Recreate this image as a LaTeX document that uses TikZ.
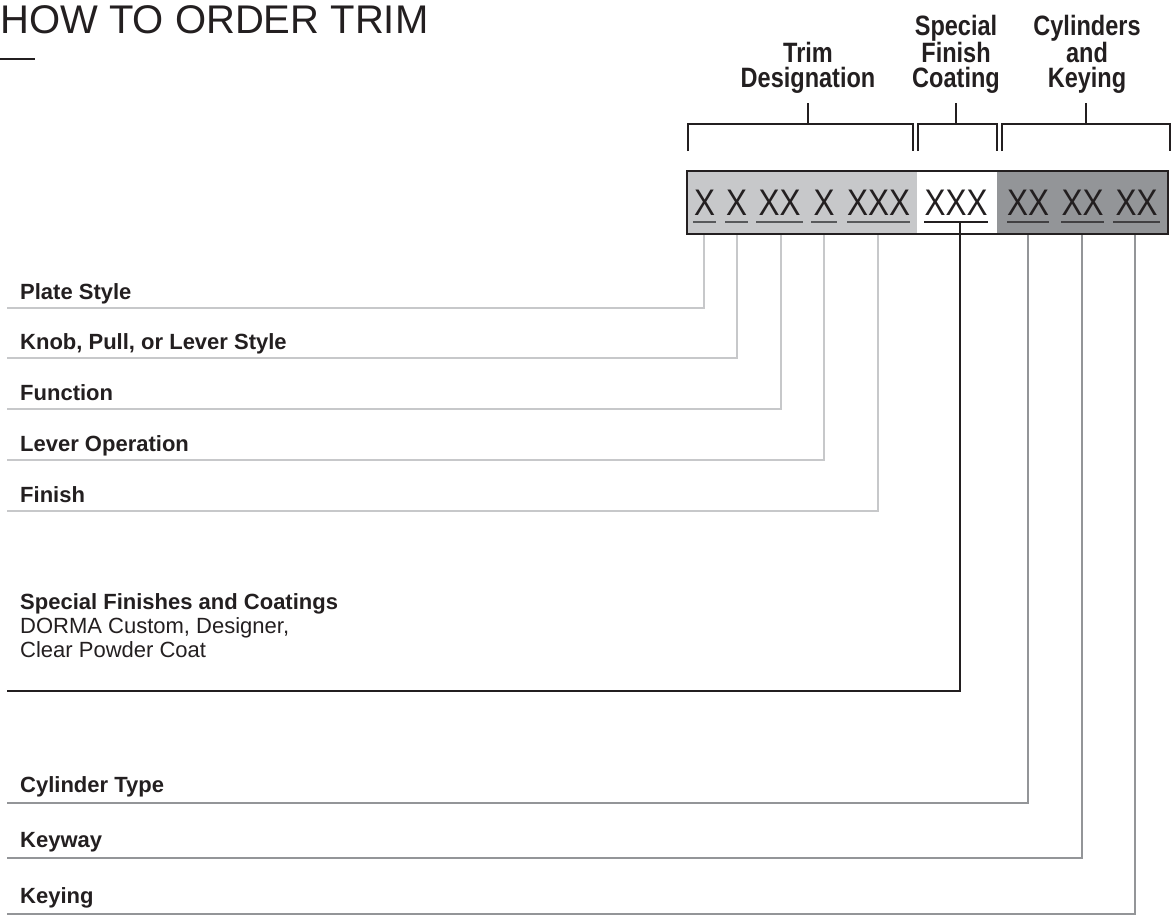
\documentclass[tikz,border=0pt]{standalone}
\usepackage{fontspec}
\setmainfont{Liberation Sans}
\usetikzlibrary{calc}
\definecolor{ink}{HTML}{231F20}
\definecolor{lgray}{HTML}{C7C8CA}
\definecolor{dgray}{HTML}{939598}
\definecolor{ulA}{HTML}{58595B}
\definecolor{ulC}{HTML}{414042}
\newcommand{\mycond}[2]{\scalebox{#1}[1]{#2}}
\tikzset{
 lbl/.style={anchor=base west, inner sep=0, text=ink, font=\fontsize{22}{25}\selectfont\bfseries},
 sublbl/.style={anchor=base west, inner sep=0, text=ink, font=\fontsize{22}{25}\selectfont},
 hdr/.style={anchor=south, inner sep=0, align=center, text=ink, font=\fontsize{28}{25}\selectfont\bfseries},
 xg/.style={anchor=base, inner sep=0, text=ink, font=\fontsize{37}{40}\selectfont},
 bracket/.style={draw=ink, line width=2.6pt, line join=miter},
 lconn/.style={draw=lgray, line width=2.6pt, line join=miter},
 kconn/.style={draw=ink, line width=2.6pt, line join=miter},
 dconn/.style={draw=dgray, line width=2.8pt, line join=miter},
 ul/.style={line width=1.4pt},
}
\begin{document}
\begin{tikzpicture}[x=1pt,y=-1pt]
\useasboundingbox (0,0) rectangle (1172,916);
% title
\node[anchor=base west, inner sep=0, text=ink, font=\fontsize{40}{44}\selectfont] (title) at (0,33) {HOW TO ORDER TRIM};
\coordinate (dashL) at (0,59);
\coordinate (dashR) at (35,59);
\draw[ink, line width=1.5pt] (dashL) -- (dashR);

% code box
\fill[lgray] (687,171) rectangle (917,234);
\fill[white] (917,171) rectangle (997,234);
\fill[dgray] (997,171) rectangle (1168,234);
\draw[ink, line width=2.2pt] (687,171) rectangle (1168,234);

% code groups
\node[xg] (g1) at (704.5,215) {\mycond{0.85}{X}};
\node[xg] (g2) at (736.5,215) {\mycond{0.85}{X}};
\node[xg] (g3) at (779.5,215) {\mycond{0.85}{XX}};
\node[xg] (g4) at (824,215) {\mycond{0.85}{X}};
\node[xg] (g5) at (878.5,215) {\mycond{0.85}{XXX}};
\node[xg] (g6) at (956,215) {\mycond{0.85}{XXX}};
\node[xg] (g7) at (1028,215) {\mycond{0.85}{XX}};
\node[xg] (g8) at (1082.5,215) {\mycond{0.85}{XX}};
\node[xg] (g9) at (1136.5,215) {\mycond{0.85}{XX}};
% underlines
\foreach \a/\b in {693/716,725/748,756/803,811/837,847/910}{
  \draw[ul, ulA] (\a,222) -- (\b,222);
}
\draw[ul, ink] (924,222) -- (988,222);
\foreach \a/\b in {1007/1049,1061/1104,1113/1160}{
  \draw[ul, ulC] (\a,222) -- (\b,222);
}

% headers
\node[hdr] (h1) at (808,93.5) {\mycond{0.84}{Trim}\\\mycond{0.84}{Designation}};
\node[hdr] (h2) at (956,93.5) {\mycond{0.84}{Special}\\\mycond{0.84}{Finish}\\\mycond{0.84}{Coating}};
\node[hdr] (h3) at (1087,93.5) {\mycond{0.84}{Cylinders}\\\mycond{0.84}{and}\\\mycond{0.84}{Keying}};

% brackets
\coordinate (s1) at (808,103);
\coordinate (s2) at (956,103);
\coordinate (s3) at (1086,103);
\draw[bracket] (688,151) -- (688,124) -- (913,124) -- (913,151);
\draw[bracket] (808,124) -- (s1);
\draw[bracket] (918,151) -- (918,124) -- (997,124) -- (997,151);
\draw[bracket] (956,124) -- (s2);
\draw[bracket] (1002,151) -- (1002,124) -- (1170,124) -- (1170,151);
\draw[bracket] (1086,124) -- (s3);

% labels
\node[lbl] (l1) at (20,299) {Plate Style};
\node[lbl] (l2) at (20,349) {Knob, Pull, or Lever Style};
\node[lbl] (l3) at (20,400) {Function};
\node[lbl] (l4) at (20,451) {Lever Operation};
\node[lbl] (l5) at (20,502) {Finish};
\node[lbl] (l6) at (20,609) {Special Finishes and Coatings};
\node[sublbl] (l6b) at (20,633) {DORMA Custom, Designer,};
\node[sublbl] (l6c) at (20,657) {Clear Powder Coat};
\node[lbl] (l7) at (20,792) {Cylinder Type};
\node[lbl] (l8) at (20,847) {Keyway};
\node[lbl] (l9) at (20,903) {Keying};

% connector start points (bottom of box)
\coordinate (t1) at (704,235);
\coordinate (t2) at (737,235);
\coordinate (t3) at (781,235);
\coordinate (t4) at (824,235);
\coordinate (t5) at (878,235);
\coordinate (t6) at (960,223);
\coordinate (t7) at (1028,235);
\coordinate (t8) at (1082,235);
\coordinate (t9) at (1135,235);
% connector end points (left)
\coordinate (e1) at (7,308);
\coordinate (e2) at (7,358);
\coordinate (e3) at (7,409);
\coordinate (e4) at (7,460);
\coordinate (e5) at (7,511);
\coordinate (e6) at (7,691);
\coordinate (e7) at (7,803);
\coordinate (e8) at (7,858);
\coordinate (e9) at (7,914);

\draw[lconn] (t1) |- (e1);
\draw[lconn] (t2) |- (e2);
\draw[lconn] (t3) |- (e3);
\draw[lconn] (t4) |- (e4);
\draw[lconn] (t5) |- (e5);
\draw[kconn] (t6) |- (e6);
\draw[dconn] (t7) |- (e7);
\draw[dconn] (t8) |- (e8);
\draw[dconn] (t9) |- (e9);
\end{tikzpicture}
\end{document}
